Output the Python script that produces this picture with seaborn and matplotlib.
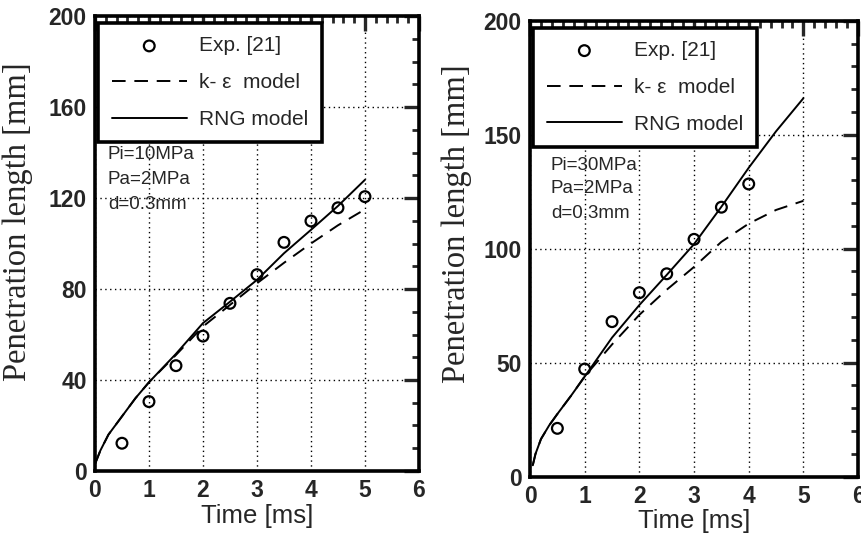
import numpy as np
import pandas as pd
import matplotlib
matplotlib.use("Agg")
import matplotlib.pyplot as plt
from matplotlib.ticker import MultipleLocator
import seaborn as sns

# ---- data: Pi = 10 MPa ----
exp_t_10 = [0.5, 1.0, 1.5, 2.0, 2.5, 3.0, 3.5, 4.0, 4.5, 5.0]
exp_y_10 = [12.2, 30.5, 46.3, 59.3, 73.7, 86.3, 100.5, 109.9, 115.7, 120.6]
rng_t_10 = [0.0, 0.1, 0.25, 0.5, 0.75, 1.0, 1.5, 2.0, 2.5, 3.0, 3.5, 4.0, 4.5, 5.0]
rng_y_10 = [3.0, 9.0, 16.0, 24.0, 32.0, 39.0, 51.5, 65.0, 74.4, 84.0, 95.7, 106.0, 116.5, 128.0]
ke_t_10 = [0.0, 0.1, 0.25, 0.5, 0.75, 1.0, 1.5, 2.0, 2.5, 3.0, 3.5, 4.0, 4.5, 5.0]
ke_y_10 = [3.0, 9.0, 16.0, 24.0, 32.0, 39.0, 51.0, 63.5, 73.0, 82.5, 91.5, 100.0, 108.0, 115.0]

# ---- data: Pi = 30 MPa ----
exp_t_30 = [0.5, 1.0, 1.5, 2.0, 2.5, 3.0, 3.5, 4.0]
exp_y_30 = [21.2, 47.2, 68.0, 80.7, 89.0, 104.1, 118.2, 128.4]
rng_t_30 = [0.05, 0.1, 0.2, 0.35, 0.5, 0.75, 1.0, 1.5, 2.0, 2.5, 3.0, 3.5, 4.0, 4.5, 5.0]
rng_y_30 = [5.0, 10.0, 16.5, 22.5, 27.5, 35.5, 43.9, 61.0, 75.3, 88.5, 102.0, 118.4, 135.5, 151.5, 166.0]
ke_t_30 = [0.05, 0.1, 0.2, 0.35, 0.5, 0.75, 1.0, 1.5, 2.0, 2.5, 3.0, 3.5, 4.0, 4.5, 5.0]
ke_y_30 = [5.0, 10.0, 16.5, 22.5, 27.5, 35.5, 44.0, 58.0, 71.0, 82.0, 92.0, 103.0, 111.0, 117.0, 121.0]

x_ticks = [0, 1, 2, 3, 4, 5, 6]
y_ticks_10 = [0, 40, 80, 120, 160, 200]
y_ticks_30 = [0, 50, 100, 150, 200]
notes_10 = ["Pi=10MPa", "Pa=2MPa", "d=0.3mm"]
notes_30 = ["Pi=30MPa", "Pa=2MPa", "d=0.3mm"]

sns.set_theme(style="white")
plt.rcParams["font.family"] = ["Liberation Sans", "DejaVu Sans"]

fig = plt.figure(figsize=(8.61, 5.41), dpi=100)
ax1 = fig.add_axes([0.1103, 0.1294, 0.3763, 0.841])
ax2 = fig.add_axes([0.6156, 0.1189, 0.381, 0.8428])


def draw_panel(ax, et, ey, rt, ry, kt, ky, yticks, ymin_step, notes,
               note_x, note_y, ylab_pos):
    df_exp = pd.DataFrame({"t": et, "y": ey})
    df_rng = pd.DataFrame({"t": rt, "y": ry})
    df_ke = pd.DataFrame({"t": kt, "y": ky})

    sns.scatterplot(data=df_exp, x="t", y="y", ax=ax, marker="o",
                    facecolor="none", edgecolor="black", linewidth=1.6,
                    s=60, label="Exp. [21]", zorder=4)
    sns.lineplot(data=df_ke, x="t", y="y", ax=ax, color="black", lw=1.4,
                 label="k- \u03b5  model", zorder=3)
    ax.lines[-1].set_dashes((7, 4.5))
    sns.lineplot(data=df_rng, x="t", y="y", ax=ax, color="black", lw=1.4,
                 label="RNG model", zorder=3)

    ax.set_xlim(0, 6)
    ax.set_ylim(0, 200)
    ax.set_xticks(x_ticks)
    ax.set_yticks(yticks)
    ax.xaxis.set_minor_locator(MultipleLocator(0.2))
    ax.yaxis.set_minor_locator(MultipleLocator(ymin_step))
    ax.tick_params(which="major", direction="in", length=11, width=2.4,
                   top=True, right=True, labelsize=16.5, pad=6)
    ax.tick_params(which="minor", direction="in", length=5, width=2.0,
                   top=True, right=True)
    for lab in ax.get_xticklabels() + ax.get_yticklabels():
        lab.set_fontweight("bold")
    for sp in ax.spines.values():
        sp.set_linewidth(2.6)
        sp.set_color("black")
    ax.grid(True, which="major", color="black", linestyle=(0, (1, 2.5)), lw=1.0)

    ax.set_xlabel("Time [ms]", fontsize=18.5, labelpad=1)
    ax.set_ylabel("Penetration length [mm]", fontsize=23.5,
                  family=["Liberation Serif", "DejaVu Serif"])
    ax.yaxis.set_label_coords(*ylab_pos)

    for txt, yy in zip(notes, note_y):
        ax.text(note_x, yy, txt, fontsize=13.5, ha="left", va="center")

    leg = ax.legend(loc="upper left", bbox_to_anchor=(0.01, 0.985),
                    borderaxespad=0.0, fontsize=15, handlelength=3.6,
                    handletextpad=0.6, labelspacing=0.85, borderpad=0.65,
                    fancybox=False, framealpha=1.0, edgecolor="black",
                    markerfirst=True)
    leg.get_frame().set_linewidth(2.6)
    leg.set_zorder(6)


draw_panel(ax1, exp_t_10, exp_y_10, rng_t_10, rng_y_10, ke_t_10, ke_y_10,
           y_ticks_10, 10, notes_10, 0.24, [139, 128, 117], (-0.19, 0.547))
draw_panel(ax2, exp_t_30, exp_y_30, rng_t_30, rng_y_30, ke_t_30, ke_y_30,
           y_ticks_30, 10, notes_30, 0.38, [136.5, 126.5, 115.5], (-0.177, 0.554))

fig.savefig("out.png", dpi=100)
